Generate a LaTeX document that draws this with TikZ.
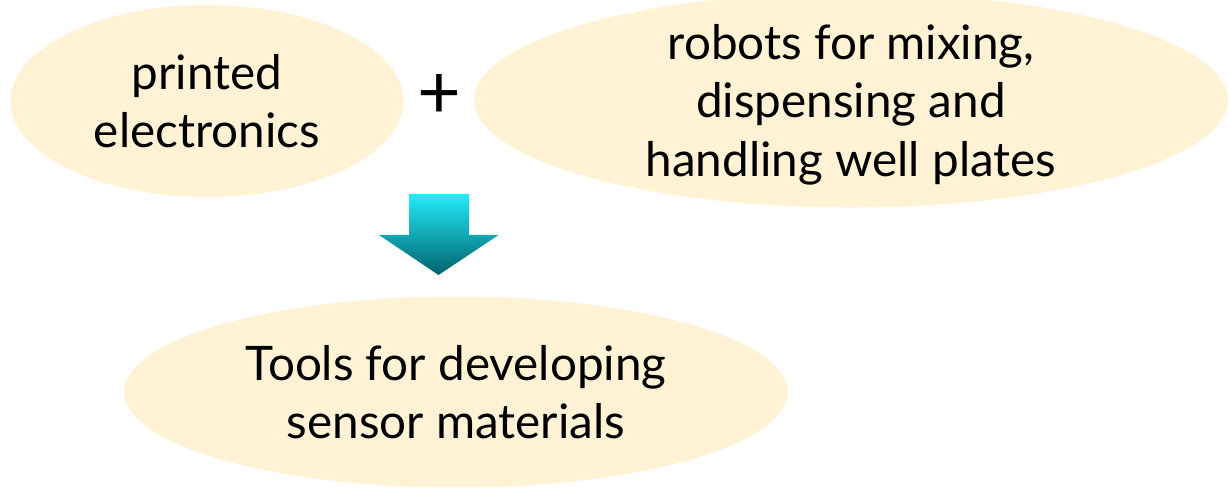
\documentclass[tikz,border=0pt]{standalone}
\usepackage{fontspec}
\setmainfont{Lato}
\usetikzlibrary{shapes.geometric}
\definecolor{cream}{RGB}{255,242,213}
\definecolor{arrowtop}{RGB}{36,236,250}
\definecolor{arrowbot}{RGB}{0,98,108}

\begin{document}
\begin{tikzpicture}
				[x=0.02cm,y=-0.02cm,
				bubble/.style={ellipse,fill=cream,inner sep=0pt,outer sep=0pt,
					align=center,font=\fontsize{27.1}{33.3}\selectfont,text depth=-3pt}]
				\useasboundingbox (0,0) rectangle (1229,489);
				\node[bubble,minimum width=7.86cm,minimum height=3.84cm] (printed) at (207,101)
					{printed\\electronics};
				\node[bubble,minimum width=15.08cm,minimum height=3.8cm] (robots) at (851,100)
					{robots for mixing,\\dispensing and\\handling well plates};
				\node[font=\fontsize{43}{46}\selectfont,inner sep=0pt] (plus) at (439,96) {+};
				\node[bubble,minimum width=13.28cm,minimum height=3.82cm] (tools) at (456,392)
					{Tools for developing\\sensor materials};
				\coordinate (tip) at (438.5,275);
				\shade[top color=arrowtop,bottom color=arrowbot]
					(tip) -- ++(-59.5,-40) -- ++(30,0) -- ++(0,-41) -- ++(60,0)
					-- ++(0,41) -- ++(29.5,0) -- cycle;
			\end{tikzpicture}
\end{document}
